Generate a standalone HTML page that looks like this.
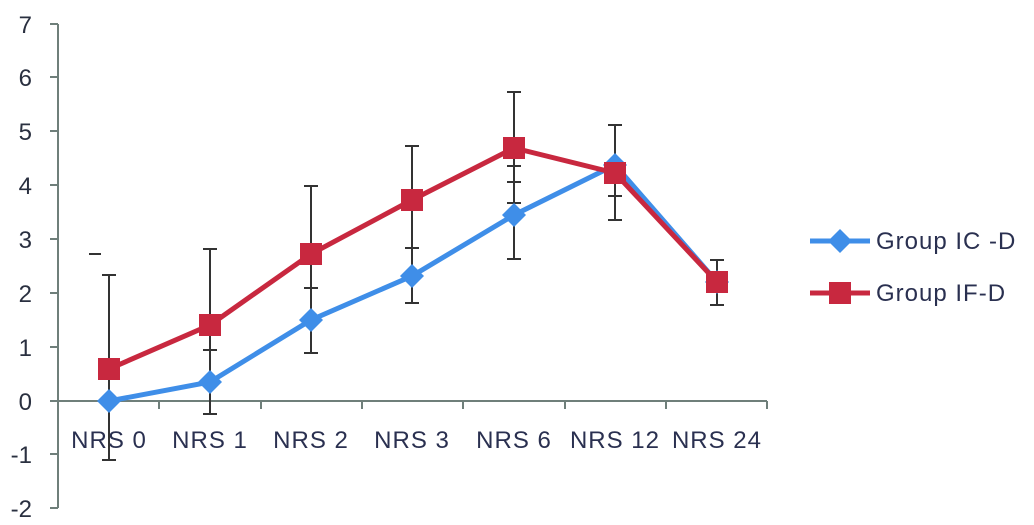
<!DOCTYPE html><html><head><style>body{margin:0;background:#fff}svg{display:block}</style></head><body>
<svg width="1034" height="525" xmlns="http://www.w3.org/2000/svg" font-family="Liberation Sans, sans-serif">
<rect width="1034" height="525" fill="#fff"/>
<g stroke="#6f7f7a" stroke-width="2">
<line x1="58" y1="24" x2="58" y2="508"/>
<line x1="58" y1="401" x2="767" y2="401"/>
<line x1="50" y1="24" x2="58" y2="24"/><line x1="50" y1="77" x2="58" y2="77"/><line x1="50" y1="131" x2="58" y2="131"/><line x1="50" y1="185" x2="58" y2="185"/><line x1="50" y1="239" x2="58" y2="239"/><line x1="50" y1="293" x2="58" y2="293"/><line x1="50" y1="347" x2="58" y2="347"/><line x1="50" y1="401" x2="58" y2="401"/><line x1="50" y1="454" x2="58" y2="454"/><line x1="50" y1="508" x2="58" y2="508"/>
<line x1="159" y1="401" x2="159" y2="409"/><line x1="261" y1="401" x2="261" y2="409"/><line x1="362" y1="401" x2="362" y2="409"/><line x1="463" y1="401" x2="463" y2="409"/><line x1="565" y1="401" x2="565" y2="409"/><line x1="666" y1="401" x2="666" y2="409"/><line x1="767" y1="401" x2="767" y2="409"/>
</g>
<g font-size="24" fill="#2a3040" text-anchor="end">
<text x="32" y="33">7</text><text x="32" y="86">6</text><text x="32" y="140">5</text><text x="32" y="194">4</text><text x="32" y="248">3</text><text x="32" y="302">2</text><text x="32" y="356">1</text><text x="32" y="410">0</text><text x="32" y="463">-1</text><text x="32" y="517">-2</text>
</g>
<g font-size="24" fill="#2a3050" text-anchor="middle" letter-spacing="1">
<text x="109" y="448">NRS 0</text><text x="210" y="448">NRS 1</text><text x="311" y="448">NRS 2</text><text x="412" y="448">NRS 3</text><text x="514" y="448">NRS 6</text><text x="615" y="448">NRS 12</text><text x="717" y="448">NRS 24</text>
</g>
<g stroke="#333" stroke-width="2">
<line x1="109" y1="275" x2="109" y2="460"/><line x1="102" y1="275" x2="116" y2="275"/><line x1="102" y1="460" x2="116" y2="460"/><line x1="89" y1="254" x2="101" y2="254"/>
<line x1="210" y1="249" x2="210" y2="414"/><line x1="203" y1="249" x2="217" y2="249"/><line x1="203" y1="414" x2="217" y2="414"/><line x1="203" y1="350" x2="217" y2="350"/>
<line x1="311" y1="186" x2="311" y2="353"/><line x1="304" y1="186" x2="318" y2="186"/><line x1="304" y1="353" x2="318" y2="353"/><line x1="304" y1="288" x2="318" y2="288"/>
<line x1="412" y1="146" x2="412" y2="303"/><line x1="405" y1="146" x2="419" y2="146"/><line x1="405" y1="303" x2="419" y2="303"/><line x1="405" y1="248" x2="419" y2="248"/>
<line x1="514" y1="92" x2="514" y2="259"/><line x1="507" y1="92" x2="521" y2="92"/><line x1="507" y1="259" x2="521" y2="259"/><line x1="507" y1="166" x2="521" y2="166"/><line x1="507" y1="182" x2="521" y2="182"/><line x1="507" y1="203" x2="521" y2="203"/>
<line x1="615" y1="125" x2="615" y2="220"/><line x1="608" y1="125" x2="622" y2="125"/><line x1="608" y1="220" x2="622" y2="220"/><line x1="608" y1="196" x2="622" y2="196"/>
<line x1="717" y1="260" x2="717" y2="305"/><line x1="710" y1="260" x2="724" y2="260"/><line x1="710" y1="305" x2="724" y2="305"/>
</g>
<polyline points="109,401 210,382 311,320 412,276 514,215 615,165 717,282" fill="none" stroke="#3f8ee8" stroke-width="5"/>
<g fill="#3f8ee8">
<path d="M109,389 L121,401 L109,413 L97,401Z"/><path d="M210,370 L222,382 L210,394 L198,382Z"/><path d="M311,308 L323,320 L311,332 L299,320Z"/><path d="M412,264 L424,276 L412,288 L400,276Z"/><path d="M514,203 L526,215 L514,227 L502,215Z"/><path d="M615,153 L627,165 L615,177 L603,165Z"/><path d="M717,270 L729,282 L717,294 L705,282Z"/>
</g>
<polyline points="109,369 210,325 311,254 412,200 514,148 615,173 717,282" fill="none" stroke="#c8283f" stroke-width="5"/>
<g fill="#c8283f">
<rect x="98" y="358" width="22" height="22"/><rect x="199" y="314" width="22" height="22"/><rect x="300" y="243" width="22" height="22"/><rect x="401" y="189" width="22" height="22"/><rect x="503" y="137" width="22" height="22"/><rect x="604" y="162" width="22" height="22"/><rect x="706" y="271" width="22" height="22"/>
</g>
<line x1="810" y1="241" x2="870" y2="241" stroke="#3f8ee8" stroke-width="5"/>
<path d="M840,229 L852,241 L840,253 L828,241Z" fill="#3f8ee8"/>
<text x="876" y="249" font-size="24" letter-spacing="1" fill="#2a3050">Group IC -D</text>
<line x1="810" y1="293" x2="870" y2="293" stroke="#c8283f" stroke-width="5"/>
<rect x="829" y="282" width="22" height="22" fill="#c8283f"/>
<text x="876" y="301" font-size="24" letter-spacing="1" fill="#2a3050">Group IF-D</text>
</svg>
</body></html>
